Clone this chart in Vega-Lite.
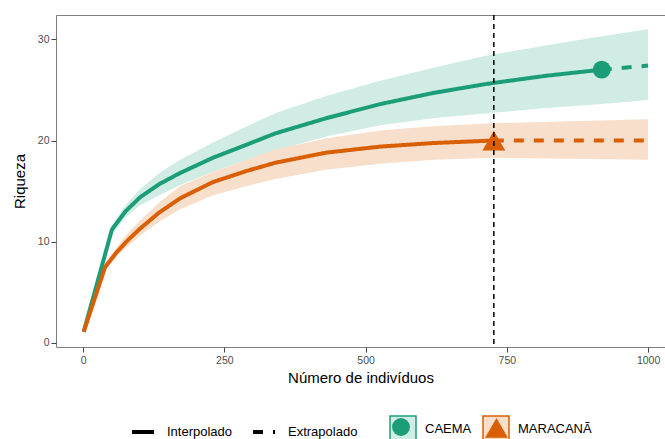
{
  "$schema": "https://vega.github.io/schema/vega-lite/v6.json",
  "width": 609,
  "height": 332,
  "autosize": {"type": "none"},
  "padding": {"left": 56, "top": 15, "right": 0, "bottom": 92},
  "background": "white",
  "config": {
    "font": "Liberation Sans",
    "view": {"stroke": "#7f7f7f", "strokeWidth": 1},
    "axis": {
      "grid": false,
      "domain": false,
      "tickColor": "#444444",
      "tickSize": 5,
      "labelColor": "#4d4d4d",
      "labelFontSize": 10.5,
      "labelFont": "Liberation Sans",
      "titleFont": "Liberation Sans",
      "titleFontSize": 15,
      "titleFontWeight": "normal",
      "titleColor": "#000000"
    },
    "legend": {"labelFontSize": 13, "labelColor": "#000000", "labelFont": "Liberation Sans"}
  },
  "datasets": {
    "curves": [
      {"site": "CAEMA", "method": "Interpolado", "n": 1, "S": 1.1, "lo": 1.1, "hi": 1.1},
      {"site": "CAEMA", "method": "Interpolado", "n": 51, "S": 11.2, "lo": 10.75, "hi": 11.65},
      {"site": "CAEMA", "method": "Interpolado", "n": 75, "S": 13.0, "lo": 12.4, "hi": 13.6},
      {"site": "CAEMA", "method": "Interpolado", "n": 101, "S": 14.4, "lo": 13.6, "hi": 15.2},
      {"site": "CAEMA", "method": "Interpolado", "n": 135, "S": 15.7, "lo": 14.6, "hi": 16.8},
      {"site": "CAEMA", "method": "Interpolado", "n": 172, "S": 16.8, "lo": 15.6, "hi": 18.1},
      {"site": "CAEMA", "method": "Interpolado", "n": 230, "S": 18.3, "lo": 16.9, "hi": 19.8},
      {"site": "CAEMA", "method": "Interpolado", "n": 290, "S": 19.6, "lo": 18.1, "hi": 21.4},
      {"site": "CAEMA", "method": "Interpolado", "n": 340, "S": 20.7, "lo": 19.0, "hi": 22.7},
      {"site": "CAEMA", "method": "Interpolado", "n": 430, "S": 22.2, "lo": 20.4, "hi": 24.4},
      {"site": "CAEMA", "method": "Interpolado", "n": 526, "S": 23.6, "lo": 21.5, "hi": 25.9},
      {"site": "CAEMA", "method": "Interpolado", "n": 620, "S": 24.7, "lo": 22.2, "hi": 27.2},
      {"site": "CAEMA", "method": "Interpolado", "n": 715, "S": 25.6, "lo": 22.7, "hi": 28.4},
      {"site": "CAEMA", "method": "Interpolado", "n": 820, "S": 26.4, "lo": 23.2, "hi": 29.4},
      {"site": "CAEMA", "method": "Interpolado", "n": 918, "S": 27.0, "lo": 23.6, "hi": 30.3},
      {"site": "CAEMA", "method": "Extrapolado", "n": 918, "S": 27.0, "lo": 23.6, "hi": 30.3},
      {"site": "CAEMA", "method": "Extrapolado", "n": 1000, "S": 27.4, "lo": 24.0, "hi": 31.0},
      {"site": "MARACANÃ", "method": "Interpolado", "n": 1, "S": 1.1, "lo": 1.1, "hi": 1.1},
      {"site": "MARACANÃ", "method": "Interpolado", "n": 39, "S": 7.5, "lo": 7.2, "hi": 7.9},
      {"site": "MARACANÃ", "method": "Interpolado", "n": 60, "S": 9.0, "lo": 8.6, "hi": 9.5},
      {"site": "MARACANÃ", "method": "Interpolado", "n": 80, "S": 10.2, "lo": 9.6, "hi": 10.9},
      {"site": "MARACANÃ", "method": "Interpolado", "n": 101, "S": 11.3, "lo": 10.6, "hi": 12.1},
      {"site": "MARACANÃ", "method": "Interpolado", "n": 135, "S": 12.9, "lo": 12.0, "hi": 13.9},
      {"site": "MARACANÃ", "method": "Interpolado", "n": 172, "S": 14.3, "lo": 13.2, "hi": 15.5},
      {"site": "MARACANÃ", "method": "Interpolado", "n": 230, "S": 15.9, "lo": 14.6, "hi": 16.9},
      {"site": "MARACANÃ", "method": "Interpolado", "n": 290, "S": 17.0, "lo": 15.5, "hi": 18.1},
      {"site": "MARACANÃ", "method": "Interpolado", "n": 340, "S": 17.8, "lo": 16.2, "hi": 19.1},
      {"site": "MARACANÃ", "method": "Interpolado", "n": 430, "S": 18.8, "lo": 17.1, "hi": 20.2},
      {"site": "MARACANÃ", "method": "Interpolado", "n": 526, "S": 19.4, "lo": 17.7, "hi": 21.0},
      {"site": "MARACANÃ", "method": "Interpolado", "n": 620, "S": 19.75, "lo": 18.1, "hi": 21.4},
      {"site": "MARACANÃ", "method": "Interpolado", "n": 727, "S": 20.0, "lo": 18.3, "hi": 21.7},
      {"site": "MARACANÃ", "method": "Extrapolado", "n": 727, "S": 20.0, "lo": 18.3, "hi": 21.7},
      {"site": "MARACANÃ", "method": "Extrapolado", "n": 860, "S": 20.0, "lo": 18.2, "hi": 21.9},
      {"site": "MARACANÃ", "method": "Extrapolado", "n": 1000, "S": 20.0, "lo": 18.1, "hi": 22.1}
    ],
    "observed": [
      {"local": "CAEMA", "n": 918, "S": 27.0},
      {"local": "MARACANÃ", "n": 727, "S": 20.0}
    ],
    "ref": [{"n": 727}]
  },
  "layer": [
    {
      "data": {"name": "curves"},
      "mark": {"type": "area", "opacity": 1},
      "encoding": {
        "x": {
          "field": "n", "type": "quantitative",
          "scale": {"domain": [-48, 1030], "nice": false, "zero": false},
          "axis": {"values": [0, 250, 500, 750, 1000], "format": "d", "title": "Número de indivíduos", "labelPadding": 3, "titlePadding": 5}
        },
        "y": {
          "field": "lo", "type": "quantitative",
          "scale": {"domain": [-0.4, 32.4], "nice": false, "zero": false},
          "axis": {"values": [0, 10, 20, 30], "title": "Riqueza", "labelPadding": 2, "titlePadding": 10}
        },
        "y2": {"field": "hi"},
        "fill": {
          "field": "site", "type": "nominal",
          "scale": {"range": ["#D1ECE4", "#F7DFCC"]},
          "legend": {
            "title": null, "orient": "none", "legendX": 333, "legendY": 400,
            "direction": "horizontal", "symbolType": "square", "symbolSize": 676,
            "symbolOpacity": 1, "symbolStrokeWidth": 1.5,
            "labelOffset": 8, "columnPadding": 8
          }
        }
      }
    },
    {
      "data": {"name": "curves"},
      "mark": {"type": "line", "strokeWidth": 4, "strokeCap": "butt"},
      "encoding": {
        "x": {"field": "n", "type": "quantitative", "title": "Número de indivíduos"},
        "y": {"field": "S", "type": "quantitative", "title": "Riqueza"},
        "stroke": {
          "field": "site", "type": "nominal",
          "scale": {"range": ["#1B9E77", "#D95F02"]},
          "legend": {
            "title": null, "orient": "none", "legendX": 333, "legendY": 400,
            "direction": "horizontal", "symbolType": "square", "symbolSize": 676,
            "symbolOpacity": 1, "symbolStrokeWidth": 1.5,
            "labelOffset": 8, "columnPadding": 8
          }
        },
        "strokeDash": {
          "field": "method", "type": "nominal",
          "scale": {"domain": ["Interpolado", "Extrapolado"], "range": [[1, 0], [10, 10]]},
          "legend": {
            "title": null, "orient": "none", "legendX": 74, "legendY": 404,
            "direction": "horizontal", "symbolType": "stroke", "symbolSize": 484,
            "symbolStrokeWidth": 4, "symbolStrokeColor": "#000000",
            "labelOffset": 11, "columnPadding": 12
          }
        }
      }
    },
    {
      "data": {"name": "observed"},
      "mark": {"type": "point", "filled": true, "opacity": 1},
      "encoding": {
        "x": {"field": "n", "type": "quantitative", "title": "Número de indivíduos"},
        "y": {"field": "S", "type": "quantitative", "title": "Riqueza"},
        "color": {
          "field": "local", "type": "nominal",
          "scale": {"range": ["#1B9E77", "#D95F02"]},
          "legend": {
            "title": null, "orient": "none", "legendX": 335, "legendY": 400,
            "direction": "horizontal", "symbolSize": 600, "symbolOpacity": 1, "symbolStrokeWidth": 1.5,
            "labelOffset": 8, "columnPadding": 63, "labelExpr": "''", "zindex": 2
          }
        },
        "size": {"field": "local", "type": "ordinal", "scale": {"range": [320, 520]}, "legend": null},
        "shape": {
          "field": "local", "type": "nominal",
          "scale": {"range": ["circle", "triangle-up"]},
          "legend": {
            "title": null, "orient": "none", "legendX": 335, "legendY": 400,
            "direction": "horizontal", "symbolSize": 600, "symbolOpacity": 1, "symbolStrokeWidth": 1.5,
            "labelOffset": 8, "columnPadding": 63, "labelExpr": "''", "zindex": 2
          }
        }
      }
    },
    {
      "data": {"name": "ref"},
      "mark": {"type": "rule", "strokeDash": [5, 4], "strokeWidth": 1.5, "color": "#000000"},
      "encoding": {
        "x": {"field": "n", "type": "quantitative", "title": "Número de indivíduos"}
      }
    }
  ]
}
